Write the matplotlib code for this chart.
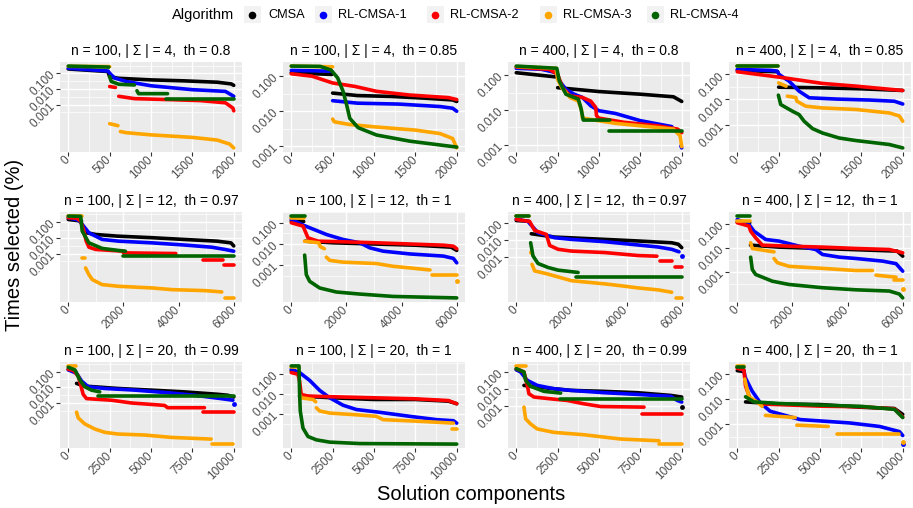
import numpy as np
import matplotlib
matplotlib.use("Agg")
import matplotlib.pyplot as plt
from matplotlib.lines import Line2D
from matplotlib.patches import Rectangle
from matplotlib.ticker import NullFormatter

plt.rcParams['font.family'] = ['Liberation Sans', 'DejaVu Sans']

algorithms = ["CMSA", "RL-CMSA-1", "RL-CMSA-2", "RL-CMSA-3", "RL-CMSA-4"]
colors = ["#000000", "#0000FF", "#FF0000", "#FFA500", "#006400"]

titles = ["n = 100, | \u03a3 | = 4,  th = 0.8", "n = 100, | \u03a3 | = 4,  th = 0.85",
          "n = 400, | \u03a3 | = 4,  th = 0.8", "n = 400, | \u03a3 | = 4,  th = 0.85",
          "n = 100, | \u03a3 | = 12,  th = 0.97", "n = 100, | \u03a3 | = 12,  th = 1",
          "n = 400, | \u03a3 | = 12,  th = 0.97", "n = 400, | \u03a3 | = 12,  th = 1",
          "n = 100, | \u03a3 | = 20,  th = 0.99", "n = 100, | \u03a3 | = 20,  th = 1",
          "n = 400, | \u03a3 | = 20,  th = 0.99", "n = 400, | \u03a3 | = 20,  th = 1"]
row_xmax = [2000, 6000, 10000]
row_xticks = [[0, 500, 1000, 1500, 2000], [0, 2000, 4000, 6000], [0, 2500, 5000, 7500, 10000]]

# each series: list of segments, each segment a list of (component index, times selected)
p1 = {
    "CMSA": [[(0, 0.19), (480, 0.13), (500, 0.06), (610, 0.048), (1000, 0.038), (1400, 0.033), (1800, 0.027), (1970, 0.021), (2000, 0.017)]],
    "RL-CMSA-1": [[(0, 0.21), (480, 0.14), (510, 0.09), (560, 0.05), (700, 0.03), (1000, 0.016), (1500, 0.009), (1900, 0.007), (2000, 0.0034)]],
    "RL-CMSA-2": [[(500, 0.0144), (570, 0.0124)], [(610, 0.0034), (800, 0.0024), (1200, 0.0021), (1600, 0.0018), (1900, 0.0013), (1990, 0.0006), (2000, 0.0004)]],
    "RL-CMSA-3": [[(0, 0.28), (500, 0.27)], [(500, 6e-5), (600, 4.5e-5)], [(630, 1.9e-5), (700, 1.6e-5), (1000, 1.16e-5), (1500, 8e-6), (1800, 5.4e-6), (1950, 3e-6), (2000, 1.7e-6)]],
    "RL-CMSA-4": [[(0, 0.29), (490, 0.25)], [(500, 0.062), (520, 0.03), (610, 0.02), (800, 0.018)], [(830, 0.0077), (850, 0.005), (1200, 0.005)], [(1180, 0.0024), (2000, 0.0024)]],
}
p2 = {
    "CMSA": [[(0, 0.125), (490, 0.112)], [(500, 0.033), (800, 0.028), (1200, 0.0265), (1600, 0.0237), (1950, 0.021), (2000, 0.019)]],
    "RL-CMSA-1": [[(0, 0.146), (490, 0.139)], [(500, 0.02), (800, 0.017), (1300, 0.016), (1800, 0.0136), (1950, 0.0122), (2000, 0.01)]],
    "RL-CMSA-2": [[(0, 0.117), (250, 0.1), (500, 0.064), (770, 0.051), (1030, 0.037), (1430, 0.029), (1900, 0.0245), (2000, 0.0215)]],
    "RL-CMSA-3": [[(0, 0.194), (500, 0.185)], [(500, 0.006), (520, 0.005), (700, 0.0042), (1000, 0.0036), (1500, 0.0029), (1800, 0.0023), (1950, 0.00167), (2000, 0.0009)]],
    "RL-CMSA-4": [[(0, 0.194), (350, 0.19), (480, 0.15), (560, 0.09), (626, 0.037), (670, 0.015), (707, 0.0063), (808, 0.0034), (1030, 0.0021), (1434, 0.0014), (2000, 0.00095)]],
}
p3 = {
    "CMSA": [[(0, 0.119), (480, 0.09)], [(500, 0.044), (1000, 0.034), (1500, 0.0285), (1900, 0.024), (2000, 0.0176)]],
    "RL-CMSA-1": [[(0, 0.16), (300, 0.15), (480, 0.12), (520, 0.069), (600, 0.0396), (700, 0.0285), (800, 0.0229), (900, 0.0132), (1000, 0.0095), (1200, 0.0079), (1500, 0.0049), (1880, 0.0033)], [(1990, 0.0009), (2000, 0.0008)]],
    "RL-CMSA-2": [[(0, 0.174), (400, 0.148), (500, 0.107), (560, 0.044), (650, 0.0255), (800, 0.0229), (900, 0.018), (960, 0.0118), (970, 0.0068), (1000, 0.0058), (1300, 0.0044), (1700, 0.0035), (1950, 0.0028), (2000, 0.0022)]],
    "RL-CMSA-3": [[(0, 0.18), (480, 0.16), (500, 0.077), (550, 0.044), (650, 0.0229), (750, 0.018), (790, 0.0095), (800, 0.0058), (1200, 0.0041), (1600, 0.0033), (1900, 0.0028), (1980, 0.0018), (2000, 0.00087)]],
    "RL-CMSA-4": [[(0, 0.185), (490, 0.16), (520, 0.069), (600, 0.0285), (750, 0.0205), (780, 0.0118), (810, 0.0051), (1130, 0.0051)], [(1120, 0.0025), (2000, 0.0025)]],
}
p4 = {
    "CMSA": [[(0, 0.145), (490, 0.128)], [(500, 0.031), (1000, 0.0293), (1500, 0.0267), (2000, 0.0229)]],
    "RL-CMSA-1": [[(0, 0.158), (400, 0.145), (480, 0.136), (505, 0.1), (626, 0.054), (747, 0.0215), (869, 0.0117), (1200, 0.0104), (1600, 0.0095), (1900, 0.0085), (2000, 0.0066)]],
    "RL-CMSA-2": [[(0, 0.128), (505, 0.078), (1030, 0.0437), (1434, 0.0341), (2000, 0.0229)]],
    "RL-CMSA-3": [[(0, 0.215), (490, 0.215)], [(500, 0.046), (590, 0.034)], [(606, 0.0136), (707, 0.012), (720, 0.0086), (828, 0.0054), (1030, 0.0046), (1434, 0.004), (1838, 0.0029), (1959, 0.0022), (2000, 0.00136)]],
    "RL-CMSA-4": [[(0, 0.215), (490, 0.215)], [(497, 0.0149), (525, 0.0063), (667, 0.0034), (747, 0.0025), (808, 0.00136), (909, 0.00069), (1030, 0.00046), (1232, 0.00029), (1434, 0.00023), (1838, 0.00016), (2000, 0.000117)]],
}
p5 = {
    "CMSA": [[(0, 0.14), (480, 0.11)], [(550, 0.022), (1000, 0.0158), (1800, 0.0124), (3000, 0.01), (4200, 0.0077), (5400, 0.006), (5900, 0.0047), (6000, 0.003)]],
    "RL-CMSA-1": [[(0, 0.179), (386, 0.125), (747, 0.0202), (1229, 0.0077), (1830, 0.006), (3036, 0.0047), (4240, 0.0034), (5205, 0.0025), (5688, 0.0018), (6000, 0.0014)]],
    "RL-CMSA-2": [[(0, 0.18), (300, 0.17), (450, 0.11), (550, 0.033), (650, 0.006), (750, 0.0025), (1000, 0.0018), (2000, 0.0014)], [(2000, 0.0011), (3900, 0.001)], [(4900, 0.00042), (5600, 0.00042)], [(5650, 0.0002), (6000, 0.0002)]],
    "RL-CMSA-3": [[(0, 0.228), (480, 0.228)], [(500, 0.00053), (620, 0.00053)], [(627, 0.000124), (747, 4.7e-5), (868, 2.3e-5), (1229, 1.1e-5), (1830, 8.6e-6), (3036, 6.8e-6), (3760, 5.3e-6), (4965, 4.6e-6), (5567, 3.8e-6)], [(5690, 1.6e-6), (6000, 1.6e-6)]],
    "RL-CMSA-4": [[(0, 0.228), (450, 0.22), (506, 0.0257), (747, 0.0047), (1229, 0.0021), (1830, 0.00155), (2073, 0.0014)], [(1976, 0.00068), (6000, 0.00068)]],
}
p6 = {
    "CMSA": [[(0, 0.12), (450, 0.115)], [(500, 0.0136), (1500, 0.0114), (3000, 0.01), (4500, 0.0088), (5800, 0.0071), (6000, 0.005)]],
    "RL-CMSA-1": [[(0, 0.144), (424, 0.078), (1273, 0.0281), (1879, 0.0163), (2485, 0.0114), (2848, 0.0066), (3333, 0.0046), (4303, 0.0034), (5515, 0.0027), (5878, 0.0021), (6000, 0.0013)]],
    "RL-CMSA-2": [[(0, 0.1), (424, 0.07), (606, 0.0195), (970, 0.0136), (1879, 0.0127), (3090, 0.0114), (4303, 0.01), (5515, 0.0088), (5878, 0.0079), (6000, 0.006)]],
    "RL-CMSA-3": [[(0, 0.17), (450, 0.17)], [(480, 0.0136), (1000, 0.0114), (1050, 0.0075), (1200, 0.006)], [(1273, 0.0024), (1394, 0.0017), (1879, 0.0014), (3090, 0.0012), (3697, 0.00089), (4303, 0.00075), (5030, 0.0006)], [(5090, 0.00036), (6000, 0.00036)], [(6000, 0.00018)]],
    "RL-CMSA-4": [[(0, 0.206), (480, 0.206)], [(485, 0.003), (545, 0.00036), (667, 0.000175), (1030, 8.5e-5), (1636, 5.5e-5), (2485, 4.4e-5), (3697, 3.4e-5), (6000, 2.9e-5)]],
}
p7 = {
    "CMSA": [[(0, 0.137), (450, 0.125)], [(545, 0.023), (1394, 0.0146), (3212, 0.0107), (4424, 0.0086), (5636, 0.0068), (5880, 0.0055), (6000, 0.0035)]],
    "RL-CMSA-1": [[(0, 0.17), (424, 0.12), (788, 0.026), (1394, 0.0134), (2000, 0.0107), (3212, 0.0078), (4424, 0.005), (5151, 0.0038), (5636, 0.0028), (5900, 0.002)], [(6000, 0.00115)]],
    "RL-CMSA-2": [[(0, 0.16), (485, 0.12), (667, 0.0358), (1090, 0.021), (1212, 0.0047), (1515, 0.0028), (2000, 0.0022), (3212, 0.0018), (4424, 0.0012), (5100, 0.0011)], [(5200, 0.00058), (5636, 0.00058)], [(5750, 0.00026), (6000, 0.00026)]],
    "RL-CMSA-3": [[(0, 0.25), (450, 0.25)], [(521, 0.002)], [(570, 0.00037), (667, 0.00015), (1150, 9.8e-5), (2000, 4e-5), (3212, 2.6e-5), (3818, 2e-5), (4424, 1.5e-5), (5150, 1.15e-5), (5636, 8.4e-6)], [(5800, 3.9e-6), (6000, 3.9e-6)]],
    "RL-CMSA-4": [[(0, 0.245), (450, 0.245)], [(521, 0.0068), (606, 0.00115), (788, 0.00041), (1150, 0.00024), (1515, 0.000167), (2242, 0.000122)], [(2180, 6.3e-5), (6000, 6.3e-5)]],
}
p8 = {
    "CMSA": [[(0, 0.117), (450, 0.11)], [(480, 0.0129), (1500, 0.0107), (3000, 0.0094), (4500, 0.0082), (5800, 0.0073), (6000, 0.0045)]],
    "RL-CMSA-1": [[(0, 0.15), (424, 0.094), (606, 0.049), (1030, 0.0222), (1515, 0.019), (2242, 0.0117), (2848, 0.0085), (3090, 0.0053), (3697, 0.0041), (4303, 0.0036), (5272, 0.0028), (5757, 0.0022), (6000, 0.00107)]],
    "RL-CMSA-2": [[(0, 0.11), (424, 0.08), (485, 0.049), (667, 0.026), (909, 0.0129), (1879, 0.0117), (3090, 0.0107), (4303, 0.0094), (5515, 0.0085), (6000, 0.0062)]],
    "RL-CMSA-3": [[(0, 0.13), (450, 0.13)], [(485, 0.0162), (545, 0.0094), (1150, 0.0073), (1333, 0.0068)], [(1333, 0.0036), (1454, 0.0024), (1879, 0.0017), (3090, 0.0014), (4303, 0.00114), (4900, 0.00114)], [(5030, 0.00073), (5757, 0.0006)], [(5700, 0.00044), (6000, 0.00044)], [(6000, 0.0002)]],
    "RL-CMSA-4": [[(0, 0.208), (450, 0.208)], [(485, 0.0041), (545, 0.00125), (667, 0.00078), (1273, 0.00041), (1879, 0.0003), (3090, 0.00022), (4303, 0.00018), (5515, 0.00016), (5878, 0.00012), (6000, 8.3e-5)]],
}
p9 = {
    "CMSA": [[(0, 0.14), (450, 0.1)], [(500, 0.0177), (1000, 0.0119), (3000, 0.0084), (5000, 0.0066), (7000, 0.0051), (9000, 0.0036), (9640, 0.0031), (10000, 0.0024)]],
    "RL-CMSA-1": [[(0, 0.128), (500, 0.078), (803, 0.025), (1205, 0.0108), (2209, 0.0084), (4016, 0.0066), (6024, 0.0045), (7630, 0.0031), (9237, 0.0019), (9950, 0.0015)], [(10000, 0.0008)]],
    "RL-CMSA-2": [[(0, 0.14), (300, 0.12), (602, 0.052), (903, 0.0035), (1105, 0.0019), (2610, 0.0015), (3815, 0.001), (5823, 0.0007), (6000, 0.0005), (8230, 0.0005)], [(8130, 0.00026), (10000, 0.00026)]],
    "RL-CMSA-3": [[(0, 0.23), (450, 0.23)], [(500, 0.00026), (600, 0.000113), (1000, 4.6e-5), (1600, 2.2e-5), (2200, 1.35e-5), (3000, 1.05e-5), (4600, 9.1e-6), (6225, 6.4e-6), (8634, 5e-6)], [(8700, 2.4e-6), (9950, 2.4e-6)]],
    "RL-CMSA-4": [[(0, 0.19), (400, 0.128), (700, 0.029), (1000, 0.0108), (1400, 0.0066), (1900, 0.0051)], [(1800, 0.0027), (10000, 0.0027)]],
}
p10 = {
    "CMSA": [[(0, 0.136), (450, 0.116)], [(500, 0.0077), (2500, 0.0063), (5000, 0.0052), (7500, 0.0052), (9500, 0.0043), (10000, 0.0032)]],
    "RL-CMSA-1": [[(0, 0.165), (505, 0.112), (1111, 0.046), (1717, 0.0147), (2323, 0.0063), (3131, 0.0027), (3939, 0.00165), (5151, 0.00126), (7171, 0.00076), (8787, 0.00052), (9797, 0.00046), (10000, 0.00035)]],
    "RL-CMSA-2": [[(0, 0.112), (400, 0.093), (500, 0.043), (600, 0.0093), (1000, 0.0077), (2500, 0.0071), (5000, 0.0063), (7500, 0.0056), (9500, 0.0046), (10000, 0.0032)]],
    "RL-CMSA-3": [[(0, 0.215), (450, 0.215)], [(505, 0.0093), (606, 0.0063), (1313, 0.0052), (1475, 0.004)], [(1515, 0.002), (1717, 0.0014), (2323, 0.0011), (3737, 0.00093), (5151, 0.00076), (5555, 0.00052), (7777, 0.00043), (9797, 0.00035)], [(9700, 0.00017), (10000, 0.00017)]],
    "RL-CMSA-4": [[(0, 0.24), (465, 0.24), (505, 0.0093), (545, 0.00136), (707, 0.0002), (1010, 7.6e-5), (1515, 5.2e-5), (2323, 4e-5), (4141, 3.4e-5), (10000, 3.2e-5)]],
}
p11 = {
    "CMSA": [[(0, 0.138), (350, 0.1)], [(464, 0.0158), (1270, 0.0126), (3286, 0.008), (5302, 0.007), (7318, 0.0058), (9334, 0.004), (10000, 0.0032)], [(10000, 0.0008)]],
    "RL-CMSA-1": [[(0, 0.138), (262, 0.1), (665, 0.0316), (1270, 0.0158), (2278, 0.01), (3286, 0.008), (5302, 0.0058), (7318, 0.0046), (9334, 0.0035), (9737, 0.002), (10000, 0.0016)]],
    "RL-CMSA-2": [[(0, 0.158), (464, 0.1), (665, 0.0158), (766, 0.005), (1068, 0.0032), (2076, 0.0025), (3085, 0.002), (4093, 0.00126), (5101, 0.00087), (7721, 0.0008)], [(7620, 0.00032), (10000, 0.00032)]],
    "RL-CMSA-3": [[(0, 0.23), (565, 0.23)], [(464, 0.0008), (565, 0.00016), (867, 7.9e-5), (1270, 4e-5), (2278, 2.5e-5), (4093, 1.8e-5), (6310, 1e-5), (8629, 7.9e-6)], [(8629, 5e-6), (10000, 5e-6)]],
    "RL-CMSA-4": [[(0, 0.158), (464, 0.1), (565, 0.0316), (867, 0.0138), (1673, 0.007), (2681, 0.0055)], [(2640, 0.0025), (10000, 0.0025)]],
}
p12 = {
    "CMSA": [[(0, 0.13), (400, 0.12)], [(500, 0.0075), (2500, 0.0062), (5000, 0.0059), (7500, 0.0046), (9500, 0.0041), (10000, 0.0024)]],
    "RL-CMSA-1": [[(0, 0.18), (400, 0.13), (480, 0.07), (900, 0.02), (1385, 0.007), (1987, 0.0032), (3793, 0.0015), (6800, 0.0011), (8600, 0.0008), (9800, 0.0005), (10000, 0.00035)], [(10000, 0.00016)]],
    "RL-CMSA-2": [[(0, 0.16), (400, 0.14), (500, 0.0316), (800, 0.009), (1500, 0.0062), (5000, 0.0051), (7500, 0.0048), (9500, 0.004), (10000, 0.0019)]],
    "RL-CMSA-3": [[(0, 0.2), (400, 0.2)], [(450, 0.06), (700, 0.012), (1200, 0.0075), (1500, 0.005)], [(1700, 0.0022), (3500, 0.0018)], [(3600, 0.0009), (5500, 0.0008)], [(6000, 0.0004), (9800, 0.0004)], [(10000, 0.0002)]],
    "RL-CMSA-4": [[(0, 0.18), (400, 0.18)], [(500, 0.012), (1000, 0.0075), (2500, 0.0065), (5000, 0.0056), (7500, 0.005), (9500, 0.0038), (10000, 0.0018)]],
}
panels = [p1, p2, p3, p4, p5, p6, p7, p8, p9, p10, p11, p12]

W, H = 913, 508
col_left = [60, 283, 508, 729]
row_top = [62, 212, 362]
row_h = [90, 90, 86]
pw = 182
tick_grey = "#4D4D4D"

fig = plt.figure(figsize=(W / 100, H / 100), dpi=100)

for i, panel in enumerate(panels):
    r, c = divmod(i, 4)
    ax = fig.add_axes([col_left[c] / W, 1 - (row_top[r] + row_h[r]) / H, pw / W, row_h[r] / H])
    ax.set_facecolor("#EBEBEB")
    for s in ax.spines.values():
        s.set_visible(False)
    allv = []
    for alg, col in zip(algorithms, colors):
        for seg in panel[alg]:
            xs = [p[0] for p in seg]
            ys = [p[1] for p in seg]
            allv += ys
            if len(seg) == 1:
                ax.plot(xs, ys, "o", color=col, ms=3.5, mec="none")
            else:
                ax.plot(xs, ys, color=col, lw=2.6, solid_capstyle="round", solid_joinstyle="round")
    ax.set_yscale("log")
    lo, hi = np.log10(min(allv)), np.log10(max(allv))
    pad = 0.05 * (hi - lo)
    lo, hi = lo - pad, hi + pad
    ax.set_ylim(10 ** lo, 10 ** hi)
    xm = row_xmax[r]
    ax.set_xlim(-0.05 * xm, 1.05 * xm)

    major = [e for e in [-3, -2, -1] if lo <= e <= hi]
    minor = [e for e in [-3.5, -2.5, -1.5, -0.5] if lo <= e <= hi]
    ax.set_yticks([10 ** e for e in major], labels=["%.3f" % 10 ** e for e in major])
    ax.set_yticks([10 ** e for e in minor], minor=True)
    ax.yaxis.set_minor_formatter(NullFormatter())
    xt = row_xticks[r]
    ax.set_xticks(xt, labels=[str(v) for v in xt])
    ax.set_xticks([(a + b) / 2 for a, b in zip(xt[:-1], xt[1:])], minor=True)

    ax.grid(which="major", color="white", lw=1.0)
    ax.grid(which="minor", color="white", lw=0.5)
    ax.set_axisbelow(True)
    ax.tick_params(which="major", length=3, width=0.8, color="#333333",
                   labelcolor=tick_grey, labelsize=8.5, pad=1.5)
    ax.tick_params(which="minor", length=0)
    for lab in ax.get_xticklabels():
        lab.set_rotation(45)
        lab.set_ha("right")
        lab.set_va("center")
        lab.set_rotation_mode("anchor")
    for lab in ax.get_yticklabels():
        lab.set_rotation(45)
        lab.set_ha("right")
        lab.set_va("center")
        lab.set_rotation_mode("anchor")
    ax.set_title(titles[i], fontsize=10, pad=5)

# legend drawn by hand so the title sits at the left like ggplot
ly = 1 - 15 / H
fig.text(172 / W, ly, "Algorithm", fontsize=10.5, ha="left", va="center")
dot_x = [252, 323, 435, 548, 655]
text_x = [268, 338, 450, 563, 670]
for alg, col, dx, tx in zip(algorithms, colors, dot_x, text_x):
    fig.add_artist(Rectangle(((dx - 8.5) / W, ly - 8.5 / H), 17 / W, 17 / H,
                             transform=fig.transFigure, facecolor="#F2F2F2", edgecolor="none"))
    fig.add_artist(Line2D([dx / W], [ly], marker="o", ms=5.5, color=col, mec="none",
                          transform=fig.transFigure))
    fig.text(tx / W, ly, alg, fontsize=9.2, ha="left", va="center")

fig.text(15 / W, 1 - 245 / H, "Times selected (%)", rotation=90, fontsize=14.5, ha="center", va="center")
fig.text(471 / W, 1 - 495 / H, "Solution components", fontsize=14.5, ha="center", va="center")

fig.savefig("out.png", dpi=100)
